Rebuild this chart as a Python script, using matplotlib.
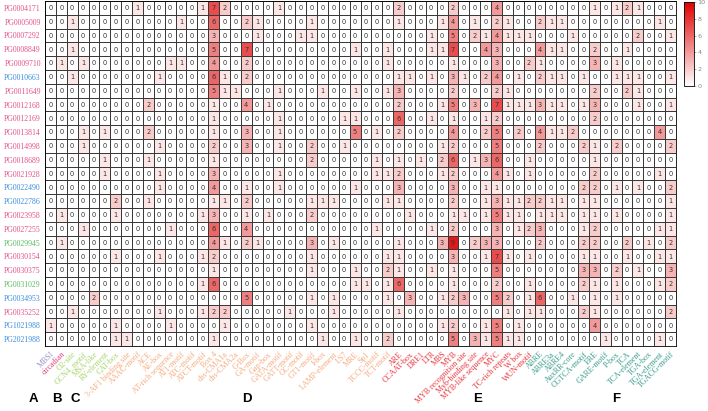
import numpy as np
import matplotlib as mpl
import matplotlib.pyplot as plt
from matplotlib.colors import LinearSegmentedColormap

genes = ['PG0004171', 'PG0005009', 'PG0007292', 'PG0008849', 'PG0009710',
         'PG0010663', 'PG0011649', 'PG0012168', 'PG0012169', 'PG0013814',
         'PG0014998', 'PG0018689', 'PG0021928', 'PG0022490', 'PG0022786',
         'PG0023958', 'PG0027255', 'PG0029945', 'PG0030154', 'PG0030375',
         'PG0031029', 'PG0034953', 'PG0035252', 'PG1021988', 'PG2021988']
gene_group = ['p', 'p', 'p', 'p', 'p', 'b', 'p', 'p', 'p', 'p', 'p', 'p', 'p',
              'b', 'b', 'p', 'p', 'g', 'p', 'p', 'g', 'b', 'p', 'b', 'b']

elements = ['MBSI', 'circadian',
            'O2-site', 'GCN4_motif', 'MSA-like', 'RY-element', 'CAT-box',
            '3-AF1 binding site', 'AAAC-motif', 'ACE', 'AE-box', 'AT-rich sequence',
            'AT1-motif', 'ATC-motif', 'ATCT-motif', 'Box 4', 'chs-CMA1a', 'chs-CMA2a',
            'G-Box', 'GA-motif', 'Gap-box', 'GATA-motif', 'GATT-motif', 'GC-motif',
            'GT1-motif', 'I-box', 'LAMP-element', 'LS7', 'MRE', 'Sp1', 'TCCC-motif',
            'TCT-motif',
            'ARE', 'CCAAT-box', 'DRE1', 'LTR', 'MBS', 'MYB', 'MYB recognition site',
            'Myb-binding site', 'MYB-like sequence', 'MYC', 'TC-rich repeats', 'W box',
            'WUN-motif',
            'ABRE', 'ABRE3a', 'ABRE4', 'AuxRR-core', 'CGTCA-motif', 'ERE', 'GARE-motif',
            'P-box', 'TCA', 'TCA-element', 'TGA-box', 'TGA-element', 'TGACG-motif']
group_sizes = [1, 1, 5, 25, 13, 13]
group_names = ['A', 'B', 'C', 'D', 'E', 'F']

counts = [
    [0,0,0,0,0,0,0,0,1,0,0,0,0,0,1,7,2,0, 0,0,0,1,0,0,0,0,0,0,0,0,0,0,2,0,0,0,0,2,0, 0,0,4,0,0,0,0,0,0,0,0,1,0,1,2,1,0,0,0],
    [0,0,1,0,0,0,0,0,0,0,0,0,1,0,0,6,0,0, 2,1,0,0,0,0,1,0,0,0,0,0,0,0,1,0,0,0,1,4,0, 1,0,2,1,0,0,2,1,1,0,0,0,0,0,0,0,0,1,0],
    [0,0,0,0,0,0,0,0,0,0,0,0,0,0,0,3,0,0, 0,1,0,0,0,1,1,0,0,0,0,0,0,0,0,0,0,1,0,5,0, 2,1,4,1,1,1,0,0,0,1,0,0,0,0,0,2,0,0,1],
    [0,0,1,0,0,0,0,0,0,0,0,0,0,0,0,5,0,0, 7,0,0,0,0,0,0,0,0,0,1,0,0,1,0,0,0,1,1,7,0, 0,4,3,0,0,0,4,1,1,0,0,2,0,0,1,0,0,0,0],
    [0,1,0,1,0,0,0,0,0,0,0,1,1,0,0,4,0,0, 2,0,0,0,0,0,0,0,0,0,0,0,0,1,0,0,0,0,0,1,0, 0,0,3,0,0,2,1,0,0,0,0,3,0,1,0,0,0,0,0],
    [0,0,1,0,0,0,0,0,0,0,1,0,0,0,0,6,1,0, 2,0,0,0,0,0,0,0,0,0,0,0,0,0,1,1,0,1,0,3,1, 0,2,4,0,1,0,2,1,1,0,1,0,0,1,1,1,0,0,1],
    [0,0,0,0,0,0,0,0,0,0,0,0,0,0,0,5,1,1, 0,0,0,1,0,0,0,1,0,0,1,0,0,1,3,0,0,0,0,2,0, 0,0,2,1,0,0,0,0,0,0,0,2,0,0,2,1,0,0,0],
    [0,0,0,0,0,0,0,0,0,2,0,0,0,0,0,1,0,0, 4,0,1,0,0,0,0,0,0,0,0,0,0,0,2,0,0,0,1,5,0, 3,0,7,1,1,1,3,1,1,0,1,3,0,0,0,1,0,0,1],
    [0,0,0,0,0,0,0,0,0,0,0,0,0,0,0,1,0,0, 0,0,0,1,0,0,0,0,0,1,1,0,0,0,6,0,0,1,0,1,0, 0,1,2,0,0,0,0,0,0,0,0,2,0,0,0,0,0,0,0],
    [0,0,0,1,0,1,0,0,0,2,0,0,0,0,0,1,0,0, 3,0,0,1,0,0,0,0,0,0,5,0,1,0,2,0,0,0,0,4,0, 0,2,5,0,2,0,4,1,1,2,0,0,0,0,0,0,0,4,0],
    [0,0,0,1,0,0,0,0,0,0,1,0,0,0,0,2,0,0, 3,0,0,1,0,0,2,0,0,1,0,0,0,0,0,0,0,0,1,2,0, 0,0,5,0,0,0,2,0,0,0,2,1,0,2,0,0,0,0,2],
    [0,0,0,0,0,1,0,0,0,1,0,0,0,0,0,1,0,0, 0,0,0,0,0,0,2,0,0,0,0,0,1,0,1,0,1,0,2,6,0, 1,3,6,0,0,1,0,0,0,0,0,1,0,0,0,0,0,0,0],
    [0,0,0,0,0,1,0,0,0,0,1,0,0,0,0,3,0,0, 0,0,0,1,0,0,0,0,0,0,0,0,1,1,2,0,0,0,1,2,0, 0,0,4,1,0,1,0,0,0,0,0,2,0,0,0,0,0,1,0],
    [0,0,0,0,0,0,0,0,0,0,1,0,0,0,0,4,0,0, 1,0,0,1,0,0,0,0,0,0,1,0,0,0,3,0,0,0,0,3,0, 0,1,1,0,0,0,0,0,0,0,2,2,0,1,0,1,0,0,2],
    [0,0,0,0,0,0,2,0,0,1,0,0,0,0,0,1,1,0, 2,0,0,0,0,0,1,1,1,0,0,0,0,1,1,0,0,0,0,2,0, 0,1,3,1,1,2,2,1,1,0,1,1,0,0,0,0,0,0,1],
    [0,1,0,0,0,0,1,0,0,0,0,0,0,0,1,3,0,0, 1,0,1,0,0,0,2,0,0,0,0,0,0,0,0,1,0,0,0,1,1, 0,1,5,1,1,0,1,1,1,0,1,1,0,1,0,0,0,0,1],
    [0,0,0,1,0,0,0,0,0,0,0,1,0,0,0,6,0,0, 4,0,0,0,0,0,0,0,0,0,0,0,1,0,0,0,0,1,0,2,0, 0,0,3,0,1,2,3,0,0,0,1,2,0,0,0,0,0,1,1],
    [0,1,0,0,0,0,0,0,0,0,0,0,0,0,0,4,1,0, 2,1,0,0,0,0,3,0,1,0,0,0,0,0,1,0,0,0,3,9,0, 2,3,3,0,0,0,2,0,0,0,2,2,0,0,2,0,1,0,2],
    [0,0,0,0,0,0,1,0,0,0,1,0,0,0,1,2,0,0, 0,0,0,0,0,0,1,0,0,0,0,0,0,1,1,0,0,0,0,3,0, 0,1,7,1,0,1,0,0,0,0,1,1,0,0,1,0,0,1,1],
    [0,0,0,0,0,0,0,0,0,0,0,0,0,0,0,1,0,0, 0,0,0,0,0,0,1,0,0,0,1,0,0,2,1,0,0,1,0,1,0, 0,0,5,0,0,0,0,0,0,0,3,3,0,2,0,1,0,0,3],
    [0,0,0,0,0,0,0,0,0,0,0,0,0,0,1,6,0,0, 0,0,0,0,0,0,0,0,0,0,1,1,0,1,6,0,0,0,0,1,0, 0,0,2,0,0,1,0,0,0,0,2,1,0,1,0,0,0,1,2],
    [0,0,0,0,2,0,0,0,0,0,0,0,0,0,0,0,0,0, 5,0,0,0,0,0,1,0,1,0,0,0,0,1,0,3,0,0,1,2,3, 0,0,5,2,0,1,6,0,0,1,0,1,0,1,0,0,0,0,0],
    [0,0,1,0,0,0,0,0,0,0,1,0,0,0,1,2,2,0, 0,0,0,0,1,0,0,0,1,0,0,0,0,0,1,0,0,0,0,0,0, 0,0,0,1,0,1,1,0,0,0,2,1,0,0,0,0,0,0,2],
    [1,0,0,0,0,0,1,0,0,0,0,1,0,0,0,0,1,0, 0,0,0,0,0,0,1,0,0,0,0,0,0,0,0,0,0,0,1,2,0, 0,1,5,0,1,0,0,0,0,0,0,4,0,0,0,0,0,0,0],
    [0,0,0,0,0,0,1,1,0,0,0,0,0,0,0,1,0,0, 0,0,0,0,0,0,0,1,0,0,1,0,0,2,0,0,0,0,0,5,0, 3,1,5,1,1,0,0,0,0,0,0,0,1,0,0,0,0,1,0],
]

gene_cols = {'p': '#E5508A', 'b': '#3B8EE0', 'g': '#5DBB63'}
grp_cols = {'A': '#9A90C8', 'B': '#E0407F', 'C': '#A8D46E', 'D': '#F4AC80',
            'E': '#E8343C', 'F': '#3A9E8A'}

data = np.array(counts)
nrow, ncol = data.shape

fig = plt.figure(figsize=(7.08, 4.11), dpi=100)
ax = fig.add_axes([45/708, 65/411, 631/708, 345/411])
cmap = LinearSegmentedColormap.from_list('wr', ['#FFFFFF', '#E00000'])
im = ax.pcolormesh(data, cmap=cmap, vmin=0, vmax=10, edgecolors='#3a3a3a', linewidth=0.6)
ax.set_xlim(0, ncol)
ax.set_ylim(nrow, 0)
for i in range(nrow):
    for j in range(ncol):
        ax.text(j+0.5, i+0.52, str(data[i, j]), ha='center', va='center',
                fontsize=4.8, color='#333333', family='DejaVu Sans')

ax.set_yticks(np.arange(nrow)+0.5)
ax.set_yticklabels(genes, fontsize=5.6, family='Liberation Serif')
for lab, g in zip(ax.get_yticklabels(), gene_group):
    lab.set_color(gene_cols[g])

el_groups = []
for name, n in zip(group_names, group_sizes):
    el_groups += [name]*n
ax.set_xticks(np.arange(ncol)+0.5)
ax.set_xticklabels(elements, rotation=45, ha='right', va='top', rotation_mode='anchor',
                   fontsize=5.8, family='Liberation Serif')
for lab, g in zip(ax.get_xticklabels(), el_groups):
    lab.set_color(grp_cols[g])
ax.tick_params(length=0, pad=3)
for s in ax.spines.values():
    s.set_linewidth(0.6)

# group letters
letter_x = [33, 57, 75, 247, 478, 616]
for name, x in zip(group_names, letter_x):
    fig.text(x/708, 1-399/411, name, ha='center', va='center', fontsize=9.5,
             weight='bold', family='Liberation Sans')

cax = fig.add_axes([684/708, 1-86/411, 10/708, 84/411])
cb = fig.colorbar(im, cax=cax, ticks=[0, 2, 4, 6, 8, 10])
cb.outline.set_linewidth(0.6)
cb.ax.tick_params(labelsize=4.6, colors='#888888', length=1.5, width=0.5, pad=1)

fig.savefig('out.png', dpi=100)
